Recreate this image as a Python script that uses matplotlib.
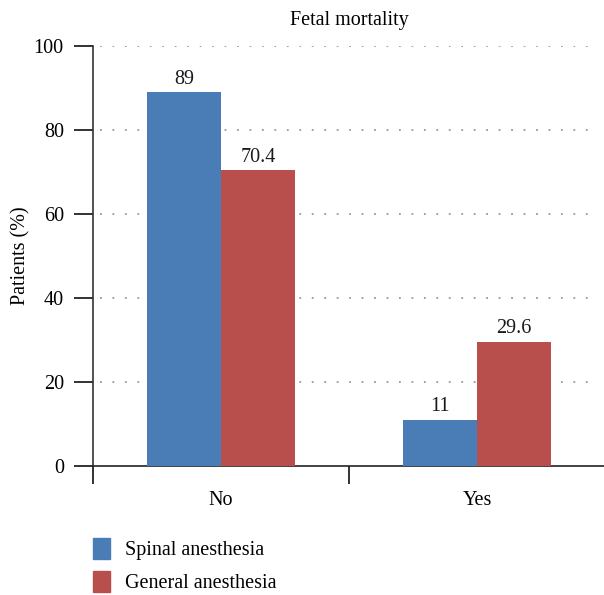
import matplotlib
matplotlib.use("Agg")
import matplotlib.pyplot as plt
from matplotlib.patches import Patch
import numpy as np

categories = ["No", "Yes"]
series_names = ["Spinal anesthesia", "General anesthesia"]
spinal = [89, 11]
general = [70.4, 29.6]
labels_spinal = ["89", "11"]
labels_general = ["70.4", "29.6"]
yticks = [0, 20, 40, 60, 80, 100]
colors = ["#4A7CB5", "#B94F4D"]

plt.rcParams['font.family'] = ['Liberation Serif', 'DejaVu Serif']
FS = 14.5

fig = plt.figure(figsize=(6.04, 5.95), dpi=100)
ax = fig.add_axes([93/604, 129/595, 512/604, 420/595])

centers = np.arange(len(categories)) + 0.5
w = 0.29
b1 = ax.bar(centers - w/2, spinal, width=w, color=colors[0], zorder=3)
b2 = ax.bar(centers + w/2, general, width=w, color=colors[1], zorder=3)
for bars, labs in ((b1, labels_spinal), (b2, labels_general)):
    for r, t in zip(bars, labs):
        ax.text(r.get_x() + r.get_width()/2, r.get_height() + 0.8, t,
                ha='center', va='bottom', fontsize=FS, color='#1a1a1a')

ax.set_xlim(0, 2)
ax.set_ylim(0, 100)
ax.set_yticks(yticks)
ax.set_xticks([0, 1, 2])
ax.set_xticklabels([])
ax.set_xticks(centers, minor=True)
ax.set_xticklabels(categories, minor=True)
ax.tick_params(axis='x', which='minor', length=0, pad=18, labelsize=FS)
ax.tick_params(axis='x', which='major', length=13, width=1.3, direction='out', color='#222222')
ax.tick_params(axis='y', length=14, width=1.3, direction='out', labelsize=FS, pad=7, color='#222222')

for y in yticks[1:]:
    ax.plot([7/512*2, 504/512*2], [y, y], linestyle=(0, (1, 5.9)), color='#999999', lw=1.3, zorder=1)

for s in ['top', 'right']:
    ax.spines[s].set_visible(False)
ax.spines['left'].set_color('#333333')
ax.spines['bottom'].set_color('#222222')
ax.spines['left'].set_linewidth(1.2)
ax.spines['bottom'].set_linewidth(1.2)

ax.set_ylabel("Patients (%)", fontsize=FS, labelpad=2)
fig.text(349/604, 1 - 20/595, "Fetal mortality", ha='center', va='center', fontsize=FS)

handles = [Patch(color=c) for c in colors]
fig.legend(handles, series_names, loc='upper left', bbox_to_anchor=(93/604, 1 - 538/595),
           frameon=False, fontsize=FS, handlelength=0.85, handleheight=1.2,
           handletextpad=0.75, labelspacing=0.55, borderaxespad=0, borderpad=0)

fig.savefig("out.png", dpi=100)
